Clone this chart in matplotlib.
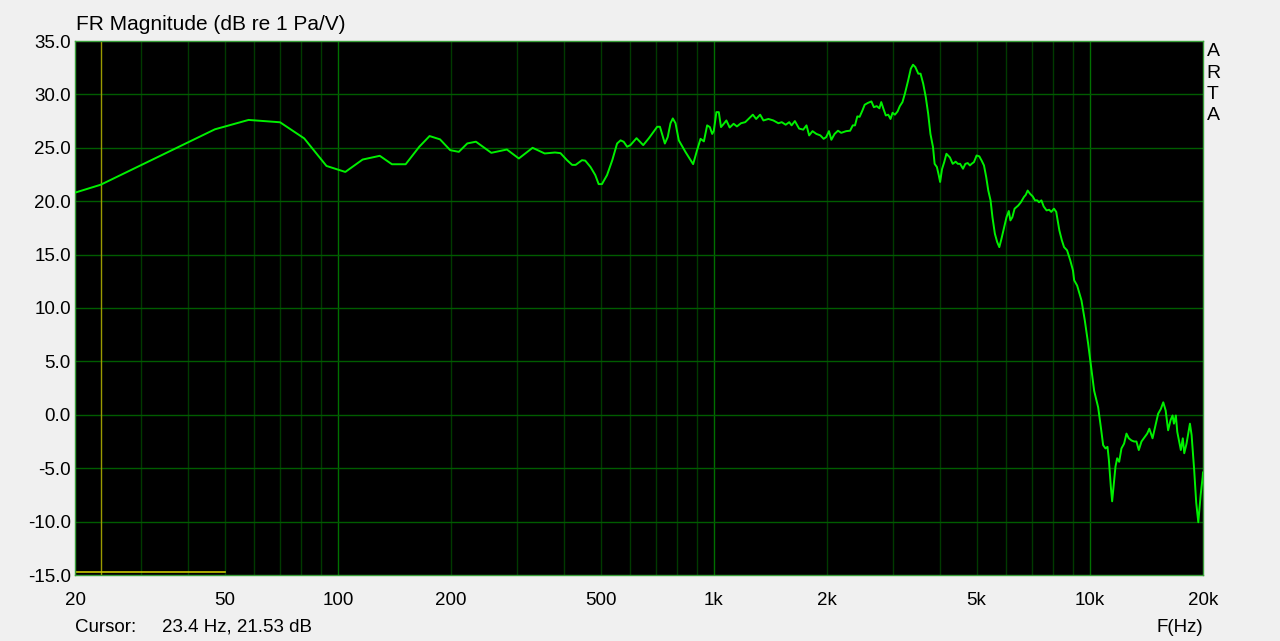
import numpy as np
import matplotlib
matplotlib.use('Agg')
import matplotlib.pyplot as plt

plt.rcParams['font.family'] = ['Liberation Sans', 'DejaVu Sans']

# 频率响应数据 (Hz, dB)
freq = [20, 23.4, 47.1, 57.9, 70.2, 81.4, 93.3, 104.7, 116.4, 129.3, 139.3, 151.5,
        164.7, 175.4, 187, 199, 209.8, 221, 233, 256, 281.6, 303, 329.6, 355, 378,
        391, 407, 420, 429, 446, 455, 470, 484, 494, 504, 520, 537, 553, 565, 576,
        588, 600, 623, 649, 672, 707, 719, 741, 754, 767, 778, 791, 807, 841, 881,
        903, 922, 941, 960, 976, 990, 1000, 1016, 1031, 1045, 1063, 1080, 1102,
        1129, 1152, 1181, 1212, 1237, 1270, 1296, 1328, 1355, 1397, 1440, 1485,
        1516, 1553, 1587, 1610, 1643, 1686, 1729, 1764, 1793, 1830, 1874, 1920,
        1959, 1990, 2024, 2054, 2095, 2139, 2182, 2249,
        2304, 2342, 2374, 2408, 2442, 2485, 2519, 2568, 2625, 2665, 2711, 2757,
        2788, 2825, 2867, 2910, 2951, 2988, 3031, 3081, 3124, 3175, 3222, 3287,
        3341, 3387, 3435, 3498, 3547, 3605, 3662, 3716, 3768, 3828, 3866, 3920,
        3967, 3998, 4045, 4100, 4156, 4245, 4319, 4398, 4455,
        4519, 4600, 4667, 4735, 4798, 4849, 4919, 5000, 5083, 5156, 5230, 5302,
        5370, 5445, 5509, 5591, 5670, 5745, 5823, 5906, 6004, 6089, 6149, 6223,
        6309, 6453, 6556, 6682, 6757, 6834, 6933, 7048, 7147, 7245, 7327, 7434,
        7540, 7674, 7796, 7898, 8028, 8141, 8298, 8426, 8541, 8700, 8870, 9022,
        9085, 9254, 9503, 9698, 9898, 10103,
        10269, 10524, 10697, 10851, 11007, 11144, 11237, 11372, 11465, 11607,
        11702, 11823, 11969, 12137, 12336, 12517, 12697, 12905, 13117, 13305,
        13497, 13722, 13999, 14210, 14400, 14540, 14682, 14883, 15195, 15451,
        15680, 15913, 16153, 16398, 16600, 16739, 16938, 17085, 17462, 17673,
        17830, 18081, 18462, 18652, 18946, 19187, 19434, 19715, 19957, 20000]
mag = [20.8, 21.54, 26.73, 27.61, 27.39, 25.88, 23.3, 22.74, 23.9, 24.25, 23.46, 23.46,
       25.1, 26.1, 25.79, 24.78, 24.62, 25.41, 25.57, 24.53, 24.84, 24.0, 25.0, 24.47, 24.56,
       24.5, 23.84, 23.4, 23.4, 23.84, 23.8, 23.2, 22.44, 21.6, 21.6, 22.44, 23.84, 25.4, 25.7, 25.56,
       25.1, 25.25, 25.9, 25.25, 25.9, 26.97, 26.97, 25.4, 26.0, 27.3, 27.75, 27.3, 25.7, 24.6, 23.47,
       24.8, 25.84, 25.6, 27.1, 26.94, 26.3, 26.6, 28.34, 28.34, 26.94, 27.25, 27.56, 26.9,
       27.25, 27.0, 27.3, 27.4, 27.7, 28.1, 27.7, 28.1, 27.56, 27.7, 27.56, 27.3,
       27.4, 27.16, 27.4, 27.1, 27.5, 26.8, 26.7, 27.1, 26.16, 26.56, 26.3, 26.16,
       25.84, 26.0, 26.56, 25.75, 26.3, 26.6, 26.4, 26.56,
       26.6, 27.1, 27.1, 27.94, 27.9, 28.5, 29.03, 29.2, 29.34, 28.8, 28.9, 28.7,
       29.28, 28.66, 28.03, 28.1, 27.7, 28.28, 28.1, 28.4, 28.9, 29.28, 30.06, 31.3,
       32.4, 32.78, 32.56, 31.94, 31.94, 31.0, 29.75, 28.2, 26.3, 25.06, 23.5, 23.2,
       22.4, 21.8, 23.0, 23.66, 24.44, 24.1, 23.5, 23.7, 23.5,
       23.5, 23.04, 23.5, 23.57, 23.35, 23.5, 23.66, 24.28, 24.2, 23.8, 23.35, 22.26,
       21.0, 20.08, 18.5, 16.96, 16.18, 15.7, 16.5, 17.43, 18.5, 19.08, 18.2, 18.5,
       19.3, 19.6, 19.9, 20.4, 20.6, 21.0, 20.7, 20.45, 20.08, 20.08, 19.9, 20.08,
       19.5, 19.14, 19.2, 19.0, 19.3, 19.0, 17.27, 16.34, 15.7, 15.4, 14.47, 13.5,
       12.6, 12.1, 10.7, 8.84, 6.66, 4.16,
       2.25, 0.7, -1.14, -2.84, -3.15, -3.0, -4.2, -6.7, -8.1, -6.1,
       -4.85, -4.07, -4.4, -3.15, -2.7, -1.76, -2.2, -2.4, -2.5, -2.5,
       -3.3, -2.5, -2.07, -1.76, -1.3, -1.76, -2.2, -1.3, 0.1, 0.55,
       1.17, 0.4, -1.45, -0.5, -0.06, -0.83, -0.06, -1.6, -3.3, -2.2,
       -3.6, -2.7, -0.83, -1.9, -5.15, -8.24, -10.06, -7.5, -5.84, -5.4]

xtick_vals = [20, 50, 100, 200, 500, 1000, 2000, 5000, 10000, 20000]
xtick_labels = ['20', '50', '100', '200', '500', '1k', '2k', '5k', '10k', '20k']
ytick_vals = np.arange(-15, 36, 5)

cursor_freq = 23.4
cursor_text = '23.4 Hz, 21.53 dB'

fig = plt.figure(figsize=(12.8, 6.41), dpi=100, facecolor='#f0f0f0')
ax = fig.add_axes([75 / 1280, 66 / 641, 1128 / 1280, 534 / 641])
ax.set_facecolor('black')
ax.set_xscale('log')
ax.set_xlim(20, 20000)
ax.set_ylim(-15, 35)

# 网格线
for dec in [10, 100, 1000, 10000]:
    for m in range(1, 10):
        f = dec * m
        if f <= 20 or f >= 20000:
            continue
        c = '#007000' if m == 1 else '#003a00'
        ax.axvline(f, color=c, lw=1, zorder=1)
for v in ytick_vals[1:-1]:
    ax.axhline(v, color='#005c00', lw=1, zorder=1)

# 光标
ax.axvline(cursor_freq, color='#9a9a00', lw=1, zorder=2)
ax.plot([20, 50], [-14.75, -14.75], color='#c8c800', lw=1.2, zorder=2)

ax.plot(freq, mag, color='#00f000', lw=1.4, zorder=3)

ax.set_xticks(xtick_vals)
ax.set_xticklabels(xtick_labels)
ax.set_xticks([], minor=True)
ax.set_yticks(ytick_vals)
ax.set_yticklabels(['%.1f' % v for v in ytick_vals])
ax.tick_params(axis='both', length=0, labelsize=13.5, colors='black')
ax.tick_params(axis='x', pad=12)
ax.tick_params(axis='y', pad=3)
for s in ax.spines.values():
    s.set_color('#3aa03a')
    s.set_linewidth(1)

fig.text(76 / 1280, 1 - 24 / 641, 'FR Magnitude (dB re 1 Pa/V)', fontsize=15,
         ha='left', va='center')
fig.text(75 / 1280, 1 - 627 / 641, 'Cursor:', fontsize=13.5, ha='left', va='center')
fig.text(162 / 1280, 1 - 627 / 641, cursor_text, fontsize=13.5, ha='left', va='center')
fig.text(1203 / 1280, 1 - 627 / 641, 'F(Hz)', fontsize=13.5, ha='right', va='center')
for i, ch in enumerate('ARTA'):
    fig.text(1213 / 1280, 1 - (52 + 21.3 * i) / 641, ch, fontsize=14,
             ha='center', va='center')

fig.savefig('out.png', dpi=100, facecolor=fig.get_facecolor())
